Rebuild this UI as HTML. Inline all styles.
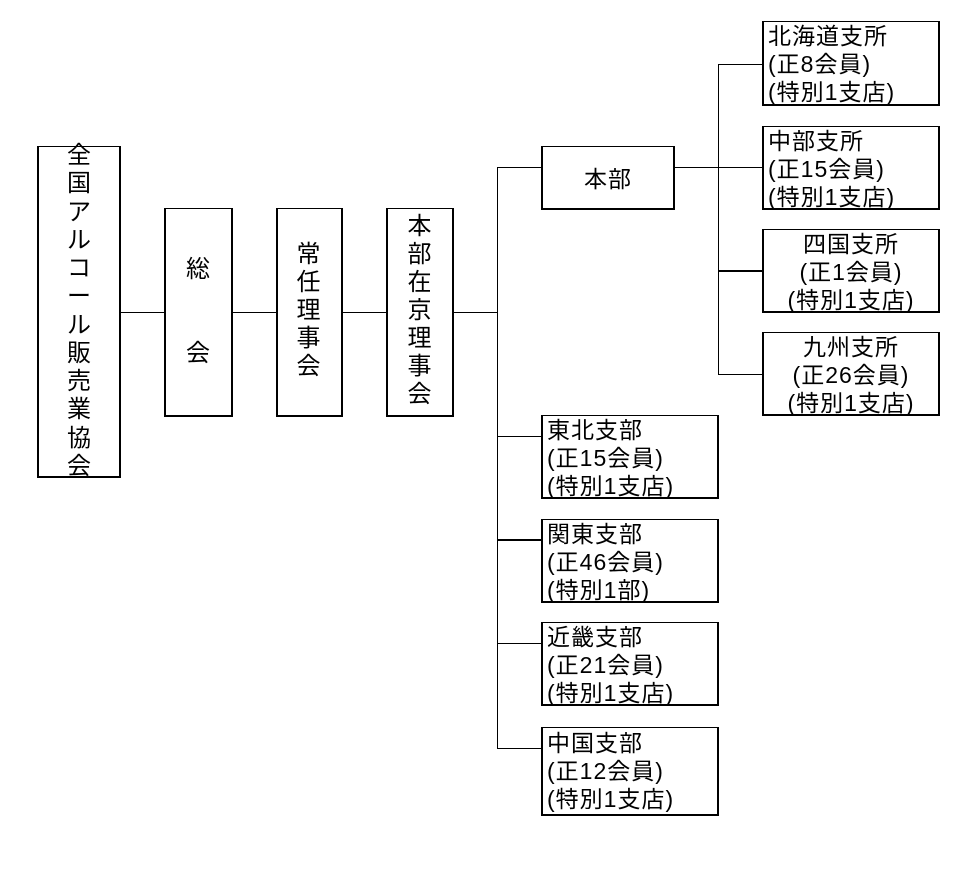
<!DOCTYPE html>
<html><head><meta charset="utf-8"><style>
html,body{margin:0;padding:0;background:#fff;}
body{width:961px;height:879px;position:relative;overflow:hidden;font-family:"Liberation Sans","Noto Sans CJK JP",sans-serif;color:#000;}
.b{position:absolute;box-sizing:border-box;border:2px solid #000;border-top-width:1.5px;background:#fff;}
.t{position:absolute;font-size:23px;line-height:28px;letter-spacing:1px;white-space:nowrap;}
.v{position:absolute;font-size:24px;text-align:center;white-space:pre;}
svg{position:absolute;left:0;top:0;}
</style></head><body>
<svg width="961" height="879">
<g stroke="#000" stroke-width="1" fill="none">
<line x1="120" y1="312.5" x2="497.5" y2="312.5"/>
<line x1="497.5" y1="167" x2="497.5" y2="749"/>
<line x1="497" y1="167.5" x2="541" y2="167.5"/>
<line x1="674" y1="167.5" x2="763" y2="167.5"/>
<line x1="718.5" y1="64" x2="718.5" y2="375"/>
<line x1="718" y1="64.5" x2="763" y2="64.5"/>
<line x1="718" y1="271" x2="763" y2="271" stroke-width="2"/>
<line x1="718" y1="374.5" x2="763" y2="374.5"/>
<line x1="497" y1="436.5" x2="541" y2="436.5"/>
<line x1="497" y1="540" x2="541" y2="540" stroke-width="2"/>
<line x1="497" y1="643.5" x2="541" y2="643.5"/>
<line x1="497" y1="748.5" x2="541" y2="748.5"/>
</g></svg>

<div class="b" style="left:37px;top:146px;width:84px;height:332px;"></div>
<div class="b" style="left:164px;top:208px;width:69px;height:209px;"></div>
<div class="b" style="left:276px;top:208px;width:67px;height:209px;"></div>
<div class="b" style="left:386px;top:208px;width:68px;height:209px;"></div>
<div class="b" style="left:541px;top:146px;width:134px;height:64px;"></div>
<div class="b" style="left:762px;top:21px;width:178px;height:85px;"></div>
<div class="b" style="left:762px;top:126px;width:178px;height:84px;"></div>
<div class="b" style="left:762px;top:229px;width:178px;height:84px;"></div>
<div class="b" style="left:762px;top:332px;width:178px;height:84px;"></div>
<div class="b" style="left:541px;top:415px;width:178px;height:84px;"></div>
<div class="b" style="left:541px;top:519px;width:178px;height:84px;"></div>
<div class="b" style="left:541px;top:622px;width:178px;height:84px;"></div>
<div class="b" style="left:541px;top:727px;width:178px;height:89px;"></div>

<div class="v" style="left:38px;width:82px;top:142px;line-height:28.26px;">全
国
ア
ル
コ
ー
ル
販
売
業
協
会</div>
<div class="v" style="left:164px;width:68px;top:256px;line-height:28px;">総</div>
<div class="v" style="left:164px;width:68px;top:340px;line-height:28px;">会</div>
<div class="v" style="left:276px;width:65px;top:241px;line-height:28px;">常
任
理
事
会</div>
<div class="v" style="left:386px;width:67px;top:213px;line-height:28px;">本
部
在
京
理
事
会</div>

<div class="t" style="left:541px;width:134px;top:165px;text-align:center;">本部</div>

<div class="t" style="left:768px;top:22px;">北海道支所<br>(正8会員)<br>(特別1支店)</div>
<div class="t" style="left:768px;top:127px;">中部支所<br>(正15会員)<br>(特別1支店)</div>
<div class="t" style="left:762px;width:178px;text-align:center;top:230px;">四国支所<br>(正1会員)<br>(特別1支店)</div>
<div class="t" style="left:762px;width:178px;text-align:center;top:333px;">九州支所<br>(正26会員)<br>(特別1支店)</div>

<div class="t" style="left:547px;top:416px;">東北支部<br>(正15会員)<br>(特別1支店)</div>
<div class="t" style="left:547px;top:520px;">関東支部<br>(正46会員)<br>(特別1部)</div>
<div class="t" style="left:547px;top:623px;">近畿支部<br>(正21会員)<br>(特別1支店)</div>
<div class="t" style="left:547px;top:729px;">中国支部<br>(正12会員)<br>(特別1支店)</div>
</body></html>
